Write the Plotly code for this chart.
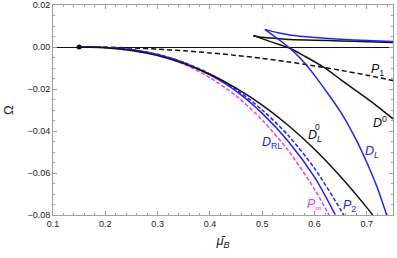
import plotly.graph_objects as go

# ---- data ----
x_low = [0.15, 0.20, 0.25, 0.30, 0.35, 0.40, 0.45, 0.50, 0.55, 0.60, 0.65, 0.70, 0.72]
DL0 = [0.0, -0.00035, -0.00165, -0.0041, -0.0079, -0.0130, -0.0196, -0.0277, -0.0374, -0.0487, -0.0618, -0.0765, -0.0829]

x_rl = [0.15, 0.20, 0.25, 0.30, 0.35, 0.40, 0.45, 0.50, 0.55, 0.60, 0.64, 0.65]
DRL = [0.0, -0.0002, -0.0013, -0.0036, -0.0075, -0.0133, -0.0210, -0.0316, -0.0450, -0.0620, -0.0800, -0.0848]

x_p2 = [0.15, 0.20, 0.25, 0.30, 0.35, 0.40, 0.45, 0.50, 0.55, 0.60, 0.65, 0.66]
P2 = [0.0, -0.0002, -0.0013, -0.0035, -0.0073, -0.0128, -0.0202, -0.0300, -0.0422, -0.0578, -0.0775, -0.0820]

x_pinf = [0.15, 0.20, 0.25, 0.30, 0.35, 0.40, 0.45, 0.50, 0.55, 0.60, 0.63]
Pinf = [0.0, -0.0002, -0.0014, -0.0039, -0.0081, -0.0146, -0.0232, -0.0348, -0.0494, -0.0678, -0.0810]

x_p1 = [0.15, 0.20, 0.25, 0.30, 0.35, 0.40, 0.45, 0.50, 0.55, 0.60, 0.65, 0.70, 0.75]
P1 = [0.0, -0.00011, -0.00044, -0.0010, -0.0018, -0.0028, -0.0040, -0.0054, -0.0071, -0.0090, -0.0111, -0.0134, -0.0160]

# D^0 swallowtail (black): upper branch and lower branch from cusp
x_d0_up = [0.483, 0.50, 0.53, 0.553, 0.60, 0.65, 0.70, 0.75]
D0_up = [0.0054, 0.0046, 0.0040, 0.0036, 0.0032, 0.0029, 0.0025, 0.0021]
x_d0_lo = [0.483, 0.52, 0.553, 0.58, 0.616, 0.65, 0.70, 0.725, 0.75]
D0_lo = [0.0054, 0.0022, -0.0006, -0.0042, -0.0094, -0.0155, -0.0245, -0.0292, -0.0342]

# D_L (blue): upper branch and lower branch from cusp
x_dl_up = [0.505, 0.53, 0.553, 0.60, 0.65, 0.70, 0.75]
DL_up = [0.0084, 0.0068, 0.0057, 0.0045, 0.0037, 0.0031, 0.0026]
x_dl_lo = [0.505, 0.53, 0.553, 0.575, 0.60, 0.625, 0.65, 0.675, 0.70, 0.72, 0.738, 0.745]
DL_lo = [0.0084, 0.0038, -0.0006, -0.0060, -0.0135, -0.0220, -0.0310, -0.0420, -0.0550, -0.0670, -0.0800, -0.0850]

start_pt = [0.15, 0.0]

BLACK = "#111111"
BLUE = "#2424e8"
MAG = "#f03cf0"

fig = go.Figure()

def line(x, y, color, dash="solid", width=1.5):
    fig.add_trace(go.Scatter(x=x, y=y, mode="lines", line=dict(color=color, width=width, dash=dash, shape="spline", smoothing=0.8), hoverinfo="skip", showlegend=False))

line(x_p1, P1, BLACK, dash="5px,3px")
line(x_pinf, Pinf, MAG, dash="4px,2px")
line(x_rl, DRL, BLUE)
line(x_p2, P2, BLUE, dash="4px,2px")
line(x_low, DL0, BLACK)
line(x_d0_up, D0_up, BLACK)
line(x_d0_lo, D0_lo, BLACK)
line(x_dl_up, DL_up, BLUE)
line(x_dl_lo, DL_lo, BLUE)

fig.add_trace(go.Scatter(x=[start_pt[0]], y=[start_pt[1]], mode="markers", marker=dict(color=BLACK, size=5), showlegend=False, hoverinfo="skip"))

FONT = "Liberation Sans, Arial, sans-serif"
ann = [
    dict(x=0.721, y=-0.011, text="<i>P</i><sub>1</sub>", color=BLACK),
    dict(x=0.725, y=-0.0355, text="<i>D</i><sup>0</sup>", color=BLACK),
    dict(x=0.600, y=-0.0425, text="<i>D</i><sub><i>L</i></sub>", color=BLACK),
    dict(x=0.709, y=-0.050, text="<i>D</i><sub><i>L</i></sub>", color=BLUE),
    dict(x=0.518, y=-0.0457, text="<i>D</i><sub>RL</sub>", color=BLUE),
    dict(x=0.599, y=-0.0752, text="<i>P</i><sub>∞</sub>", color=MAG),
    dict(x=0.667, y=-0.0757, text="<i>P</i><sub>2</sub>", color=BLUE),
]
for a in ann:
    fig.add_annotation(x=a["x"], y=a["y"], text=a["text"], showarrow=False,
                       font=dict(family=FONT, size=12.5, color=a["color"]))
fig.add_annotation(x=0.606, y=-0.0383, text="0", showarrow=False,
                   font=dict(family=FONT, size=8.5, color=BLACK))
# y-axis title
fig.add_annotation(xref="paper", yref="paper", x=-0.132, y=0.5, xanchor="center", yanchor="middle",
                   text="Ω", textangle=-90,
                   showarrow=False, font=dict(family=FONT, size=13, color="#222222"))

FRAME = "#a0a0a0"
fig.update_layout(
    width=397, height=258,
    margin=dict(l=53, r=4, t=5, b=43, autoexpand=False),
    paper_bgcolor="white", plot_bgcolor="white",
    font=dict(family=FONT, size=9, color="#222222"),
    xaxis=dict(range=[0.1, 0.75], dtick=0.1, tick0=0.1, tickformat=".1f", automargin=False,
               ticks="inside", ticklen=4, tickcolor=FRAME, showgrid=False, zeroline=False,
               showline=True, linecolor=FRAME, linewidth=1, mirror="allticks",
               minor=dict(dtick=0.02, ticks="inside", ticklen=2, tickcolor=FRAME),
               title=dict(text="<i>μ̄</i><sub><i>B</i></sub>", font=dict(size=13, color="#222222"), standoff=8)),
    yaxis=dict(range=[-0.08, 0.02], dtick=0.02, tickformat=".2f", automargin=False,
               ticks="inside", ticklen=4, tickcolor=FRAME, showgrid=False,
               zeroline=True, zerolinecolor=BLACK, zerolinewidth=1,
               showline=True, linecolor=FRAME, linewidth=1, mirror="allticks",
               minor=dict(dtick=0.005, ticks="inside", ticklen=2, tickcolor=FRAME)),
)

fig.write_html("out.html", config={"displayModeBar": False},
               post_script="document.body.style.margin='0';document.body.style.padding='0';")
